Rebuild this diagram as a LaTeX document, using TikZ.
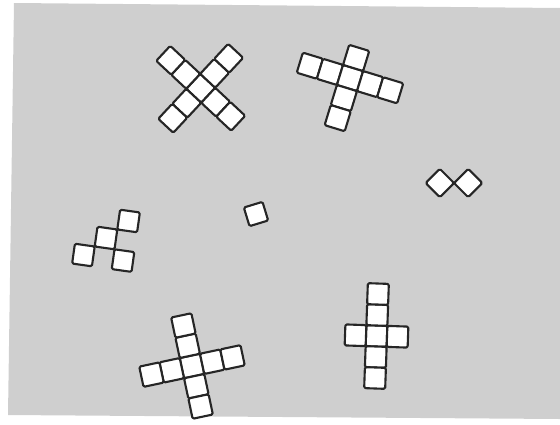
\documentclass[tikz,border=0pt]{standalone}
\usepackage{tikz}

\begin{document}
\begin{tikzpicture}[
  x=0.02cm, y=0.02cm,
  paper/.style={fill=black!19},
  tile/.style={draw=black!85, fill=white, line width=1.2pt, rounded corners=0.8pt, line join=round}
]
\useasboundingbox (0,0) rectangle (560,424);
% grey card
\fill[paper] (14,421) -- (560,416) -- (560,5) -- (8,9) -- cycle;

% X, top left
\begin{scope}[shift={(200.7,335.7)}, rotate=47]
  \foreach \i/\j in {0/0,1/0,2/0,-1/0,-2/0,0/1,0/2,0/-1,0/-2}
    \draw[tile] ({(\i-0.5)*20.5},{(\j-0.5)*20.5}) rectangle ++(20.5,20.5);
\end{scope}

% tilted cross, top
\begin{scope}[shift={(350,346)}, rotate=-17]
  \foreach \i/\j in {-2/0,-1/0,0/0,1/0,2/0,0/1,0/-1,0/-2}
    \draw[tile] ({(\i-0.5)*21},{(\j-0.5)*21}) rectangle ++(21,21);
\end{scope}

% two diamonds, right
\begin{scope}[shift={(454,241)}, rotate=45]
  \foreach \i/\j in {-0.5/0.5,0.5/-0.5}
    \draw[tile] ({(\i-0.5)*20},{(\j-0.5)*20}) rectangle ++(20,20);
\end{scope}

% four squares, left
\begin{scope}[shift={(106,186)}, rotate=-8]
  \foreach \i/\j in {0/0,1/1,-1/-1,1/-1}
    \draw[tile] ({(\i-0.5)*20},{(\j-0.5)*20}) rectangle ++(20,20);
\end{scope}

% single square
\begin{scope}[shift={(256,210)}, rotate=17]
  \draw[tile] (-9.75,-9.75) rectangle ++(19.5,19.5);
\end{scope}

% cross, bottom left
\begin{scope}[shift={(192,58)}, rotate=12]
  \foreach \i/\j in {0/0,1/0,2/0,-1/0,-2/0,0/1,0/2,0/-1,0/-2}
    \draw[tile] ({(\i-0.5)*20.7},{(\j-0.5)*20.7}) rectangle ++(20.7,20.7);
\end{scope}

% upright cross, bottom right
\begin{scope}[shift={(376.5,88)}, rotate=-2]
  \foreach \i/\j in {0/0,-1/0,1/0,0/1,0/2,0/-1,0/-2}
    \draw[tile] ({(\i-0.5)*21},{(\j-0.5)*21}) rectangle ++(21,21);
\end{scope}
\end{tikzpicture}
\end{document}
